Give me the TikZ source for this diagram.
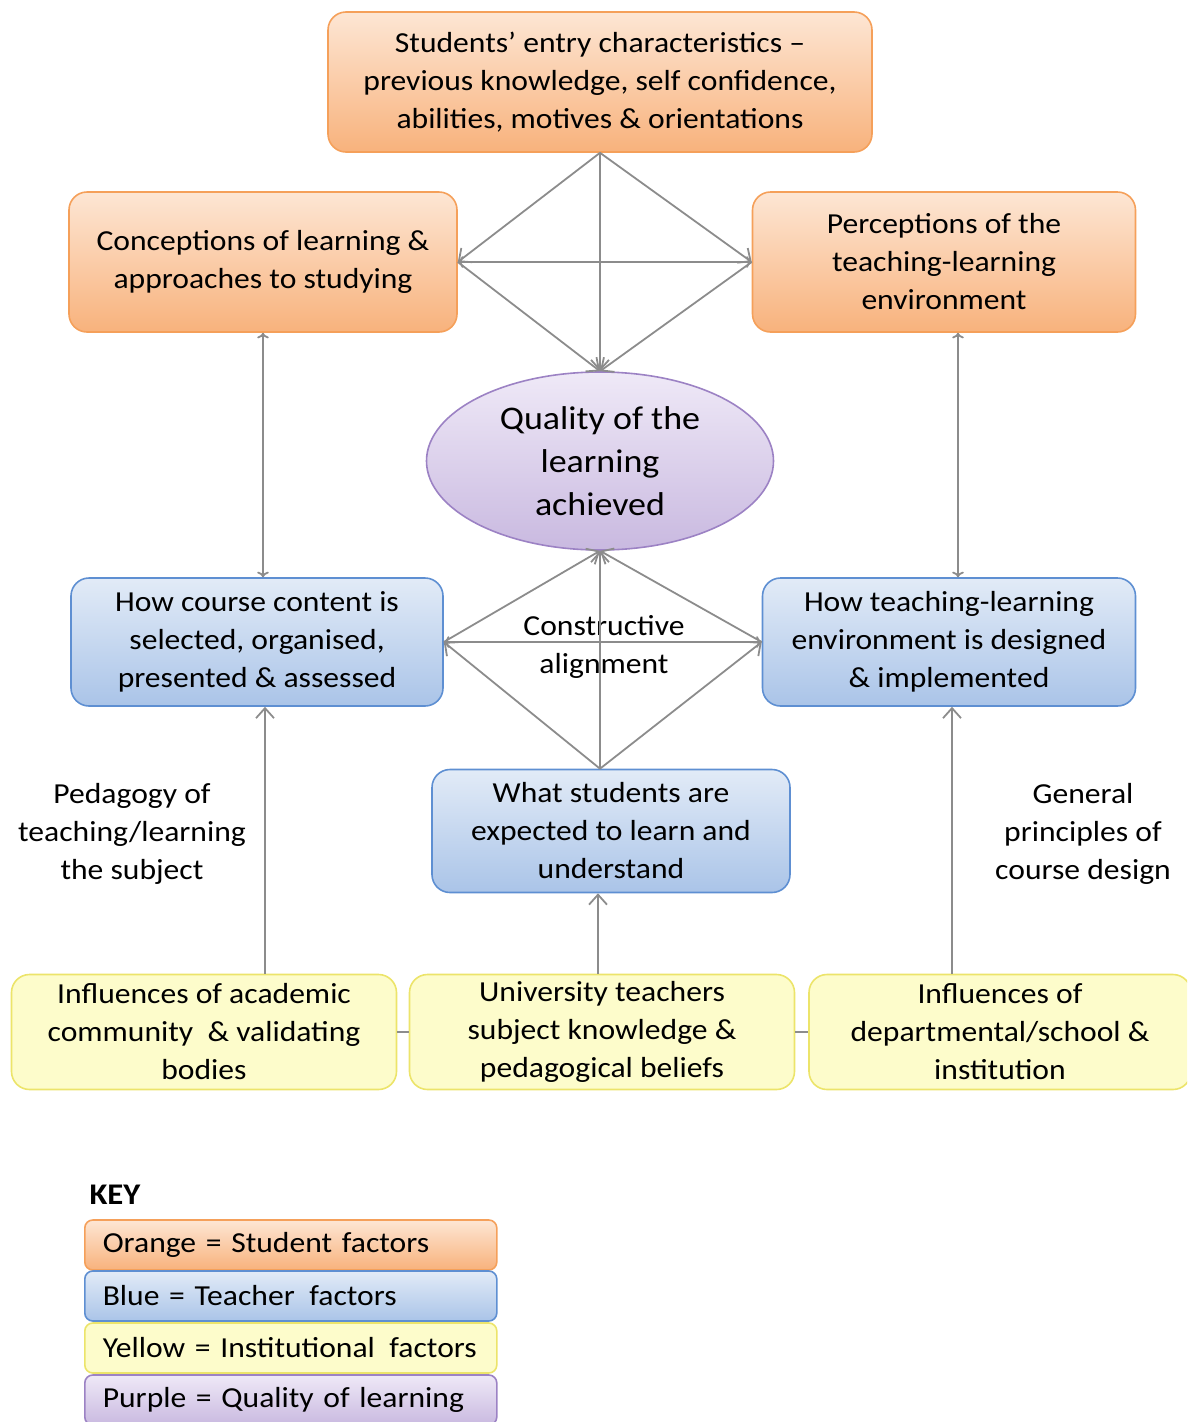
\documentclass[tikz,border=0pt]{standalone}
\usepackage{fontspec}
\setmainfont{Carlito}[FakeStretch=1.09]
\usetikzlibrary{arrows.meta,shapes.geometric,calc}
\definecolor{orline}{HTML}{F5A05A}
\definecolor{ortop}{HTML}{FDE6D4}
\definecolor{orbot}{HTML}{F8B27C}
\definecolor{blline}{HTML}{5E8FD2}
\definecolor{bltop}{HTML}{E2EBF7}
\definecolor{blbot}{HTML}{AAC4E8}
\definecolor{yeline}{HTML}{ECE46A}
\definecolor{yefill}{HTML}{FDFCCB}
\definecolor{puline}{HTML}{9C82C4}
\definecolor{putop}{HTML}{EFE9F7}
\definecolor{pubot}{HTML}{C9B9E0}
\definecolor{linkgray}{HTML}{8C8C8C}
\begin{document}
\begin{tikzpicture}[x=1pt,y=-1pt,
  every node/.style={font=\fontsize{29}{38}\selectfont},
  factor/.style={rounded corners=18pt,line width=1.6pt,align=center,inner sep=0pt},
  orangebox/.style={factor,draw=orline,top color=ortop,bottom color=orbot},
  bluebox/.style={factor,draw=blline,top color=bltop,bottom color=blbot},
  yellowbox/.style={factor,draw=yeline,fill=yefill},
  quality/.style={ellipse,draw=puline,line width=1.6pt,top color=putop,bottom color=pubot,
    align=center,inner sep=0pt,font=\fontsize{33}{43}\selectfont},
  keybox/.style={rounded corners=8pt,line width=1.6pt,minimum height=50pt,inner xsep=18pt,
    text width=376pt,align=left,anchor=west},
  link/.style={draw=linkgray,line width=1.8pt,arrows={-Straight Barb[length=10pt,width=18pt]}},
  plain/.style={draw=linkgray,line width=1.8pt}]
\useasboundingbox (0,0) rectangle (1187,1422);
\clip (0,0) rectangle (1187,1422);
% student factors
\node[orangebox,minimum width=544pt,minimum height=140pt] (entry) at (600,82)
  {Students' entry characteristics --\\previous knowledge, self confidence,\\abilities, motives \& orientations};
\node[orangebox,minimum width=388pt,minimum height=140pt] (concept) at (263,262)
  {Conceptions of learning \&\\approaches to studying};
\node[orangebox,minimum width=383pt,minimum height=140pt] (percept) at (944,262)
  {Perceptions of the\\teaching-learning\\environment};
% quality
\node[quality,minimum width=347pt,minimum height=178pt] (quality) at (600,461)
  {Quality of the\\learning\\achieved};
% teacher factors
\node[bluebox,minimum width=372pt,minimum height=128pt] (content) at (257,642)
  {How course content is\\selected, organised,\\presented \& assessed};
\node[bluebox,minimum width=373pt,minimum height=128pt] (design) at (949,642)
  {How teaching-learning\\environment is designed\\\& implemented};
\node[bluebox,minimum width=358pt,minimum height=123pt] (expect) at (611,831)
  {What students are\\expected to learn and\\understand};
% institutional factors
\node[yellowbox,minimum width=385pt,minimum height=115pt] (academic) at (204,1032)
  {Influences of academic\\community \ \& validating\\bodies};
\node[yellowbox,minimum width=385pt,minimum height=115pt] (univ) at (602,1032)
  {University teachers\\subject knowledge \&\\pedagogical beliefs};
\node[yellowbox,minimum width=382pt,minimum height=115pt] (dept) at (1000,1032)
  {Influences of\\departmental/school \&\\institution};
% free labels
\node[align=center] (pedagogy) at (132,834) {Pedagogy of\\teaching/learning\\the subject};
\node[align=center] (general) at (1083,834) {General\\principles of\\course design};
\node[align=center] (align) at (604,647) {Constructive\\alignment};
% upper diamond
\draw[link] (entry.south) -- (concept.east);
\draw[link] (entry.south) -- (percept.west);
\draw[link] (entry.south) -- (quality.north);
\draw[link,<->] (concept.east) -- (percept.west);
\draw[link] (concept.east) -- (quality.north);
\draw[link] (percept.west) -- (quality.north);
% lower diamond
\draw[link] (expect.north -| quality.south) -- (quality.south);
\draw[link] (expect.north -| quality.south) -- (content.east);
\draw[link] (expect.north -| quality.south) -- (design.west);
\draw[link,<->] (content.east) -- (design.west);
\draw[link] (content.east) -- (quality.south);
\draw[link] (design.west) -- (quality.south);
% verticals
\draw[link,<->] ([xshift=6pt]content.north |- concept.south) -- ([xshift=6pt]content.north);
\draw[link,<->] ([xshift=9pt]design.north |- percept.south) -- ([xshift=9pt]design.north);
\draw[link] ([xshift=8pt]content.south |- academic.north) -- ([xshift=8pt]content.south);
\draw[link] ([xshift=-13pt]expect.south |- univ.north) -- ([xshift=-13pt]expect.south);
\draw[link] ([xshift=3pt]design.south |- dept.north) -- ([xshift=3pt]design.south);
\draw[plain] (academic.east) -- (univ.west);
\draw[plain] (univ.east) -- (dept.west);
% key
\node[anchor=west,font=\fontsize{30}{34}\selectfont\bfseries] (key) at (86,1195) {KEY};
\node[keybox,draw=orline,top color=ortop,bottom color=orbot] (keyor) at (84,1245) {Orange = Student factors};
\node[keybox,draw=blline,top color=bltop,bottom color=blbot] (keybl) at (84,1296) {Blue = Teacher\, factors};
\node[keybox,draw=yeline,fill=yefill] (keyye) at (84,1348) {Yellow = Institutional\, factors};
\node[keybox,draw=puline,top color=putop,bottom color=pubot] (keypu) at (84,1400) {Purple = Quality of learning};
\end{tikzpicture}
\end{document}
